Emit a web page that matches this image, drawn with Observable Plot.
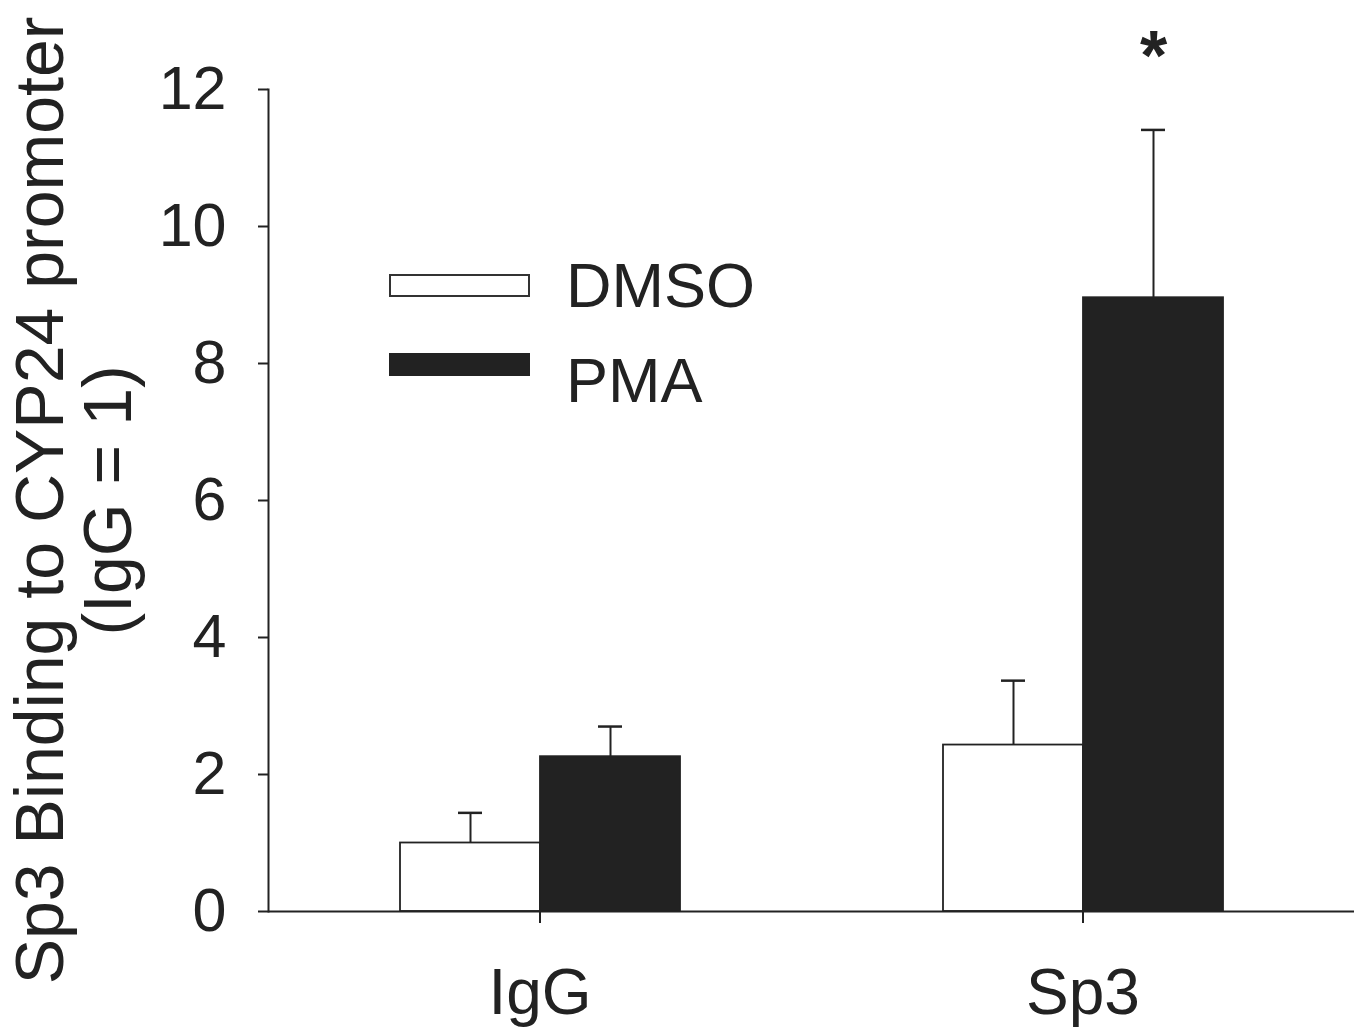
<!DOCTYPE html>
<html>
<head>
<meta charset="utf-8">
<script src="https://cdn.jsdelivr.net/npm/d3@7"></script>
<script src="https://cdn.jsdelivr.net/npm/@observablehq/plot@0.6"></script>
<style>
  html, body { margin: 0; padding: 0; background: #fff; }
  #wrap { position: relative; width: 1361px; height: 1032px; font-family: "Liberation Sans", Arial, sans-serif; color: #222; }
  #chart svg { display: block; }
  .legend-swatch { position: absolute; box-sizing: border-box; width: 141px; height: 23px; }
  .legend-text { position: absolute; font-size: 63px; line-height: 1; white-space: nowrap; }
</style>
</head>
<body>
<div id="wrap">
  <div id="chart"></div>
  <div id="legend"></div>
</div>
<script>
// ---- data ----
const groups = ["IgG", "Sp3"];
const treatments = ["DMSO", "PMA"];
const dmsoMean = [1.0, 2.43];
const dmsoErr = [0.44, 0.94];
const pmaMean = [2.26, 8.96];
const pmaErr = [0.44, 2.45];
const dmsoSig = ["", ""];
const pmaSig = ["", "*"];
const yTicks = [0, 2, 4, 6, 8, 10, 12];
const yLabel = "Sp3 Binding to CYP24 promoter\n(IgG = 1)";
const treatmentColors = ["#ffffff", "#222222"];

const rows = [];
groups.forEach((g, i) => {
  rows.push({group: g, treatment: treatments[0], value: dmsoMean[i], upper: dmsoMean[i] + dmsoErr[i], sig: dmsoSig[i]});
  rows.push({group: g, treatment: treatments[1], value: pmaMean[i], upper: pmaMean[i] + pmaErr[i], sig: pmaSig[i]});
});

const ink = "#222";
const chart = Plot.plot({
  width: 1361,
  height: 1032,
  marginLeft: 267,
  marginRight: 7,
  marginTop: 89,
  marginBottom: 121,
  style: {fontFamily: "'Liberation Sans', Arial, sans-serif", color: ink, background: "white", overflow: "visible"},
  fx: {domain: groups, padding: 0, label: null, axis: null},
  x: {domain: treatments, paddingInner: 0, paddingOuter: 0.939, axis: null},
  y: {domain: [0, 12], label: null},
  color: {domain: treatments, range: treatmentColors},
  marks: [
    Plot.frame({anchor: "left", stroke: ink, strokeWidth: 2, facetAnchor: "left"}),
    Plot.axisY({ticks: yTicks, tickSize: 10, tickPadding: 32, fontSize: 61, strokeWidth: 2, stroke: ink, label: null}),
    Plot.axisY({ticks: [], tickSize: 0, fontSize: 68, label: yLabel, labelAnchor: "center", labelOffset: 254, labelArrow: "none"}),
    Plot.axisFx({anchor: "bottom", tickSize: 12, tickPadding: 45, fontSize: 64, strokeWidth: 2, stroke: ink, label: null}),
    Plot.barY(rows, {fx: "group", x: "treatment", y: "value", fill: "treatment", stroke: ink, strokeWidth: 1.8}),
    Plot.ruleX(rows, {fx: "group", x: "treatment", y1: "value", y2: "upper", stroke: ink, strokeWidth: 2}),
    Plot.tickY(rows, {fx: "group", x: "treatment", y: "upper", stroke: ink, strokeWidth: 2.5, insetLeft: 58, insetRight: 58}),
    Plot.ruleY([0], {stroke: ink, strokeWidth: 2}),
    Plot.text(rows, {fx: "group", x: "treatment", y: "upper", text: "sig", fontSize: 70, fontWeight: "bold", lineAnchor: "bottom", dy: -50, fill: ink})
  ]
});
document.getElementById("chart").appendChild(chart);

// ---- legend (inside the plot area, as in the original) ----
const legend = document.getElementById("legend");
const legendItems = [
  {label: treatments[0], fill: treatmentColors[0], border: "2px solid #333", top: 274, textTop: 254},
  {label: treatments[1], fill: treatmentColors[1], border: "none", top: 353, textTop: 349}
];
legendItems.forEach(it => {
  const sw = document.createElement("div");
  sw.className = "legend-swatch";
  sw.style.left = "389px";
  sw.style.top = it.top + "px";
  sw.style.background = it.fill;
  sw.style.border = it.border;
  legend.appendChild(sw);
  const tx = document.createElement("div");
  tx.className = "legend-text";
  tx.style.left = "566px";
  tx.style.top = it.textTop + "px";
  tx.textContent = it.label;
  legend.appendChild(tx);
});
</script>
</body>
</html>
